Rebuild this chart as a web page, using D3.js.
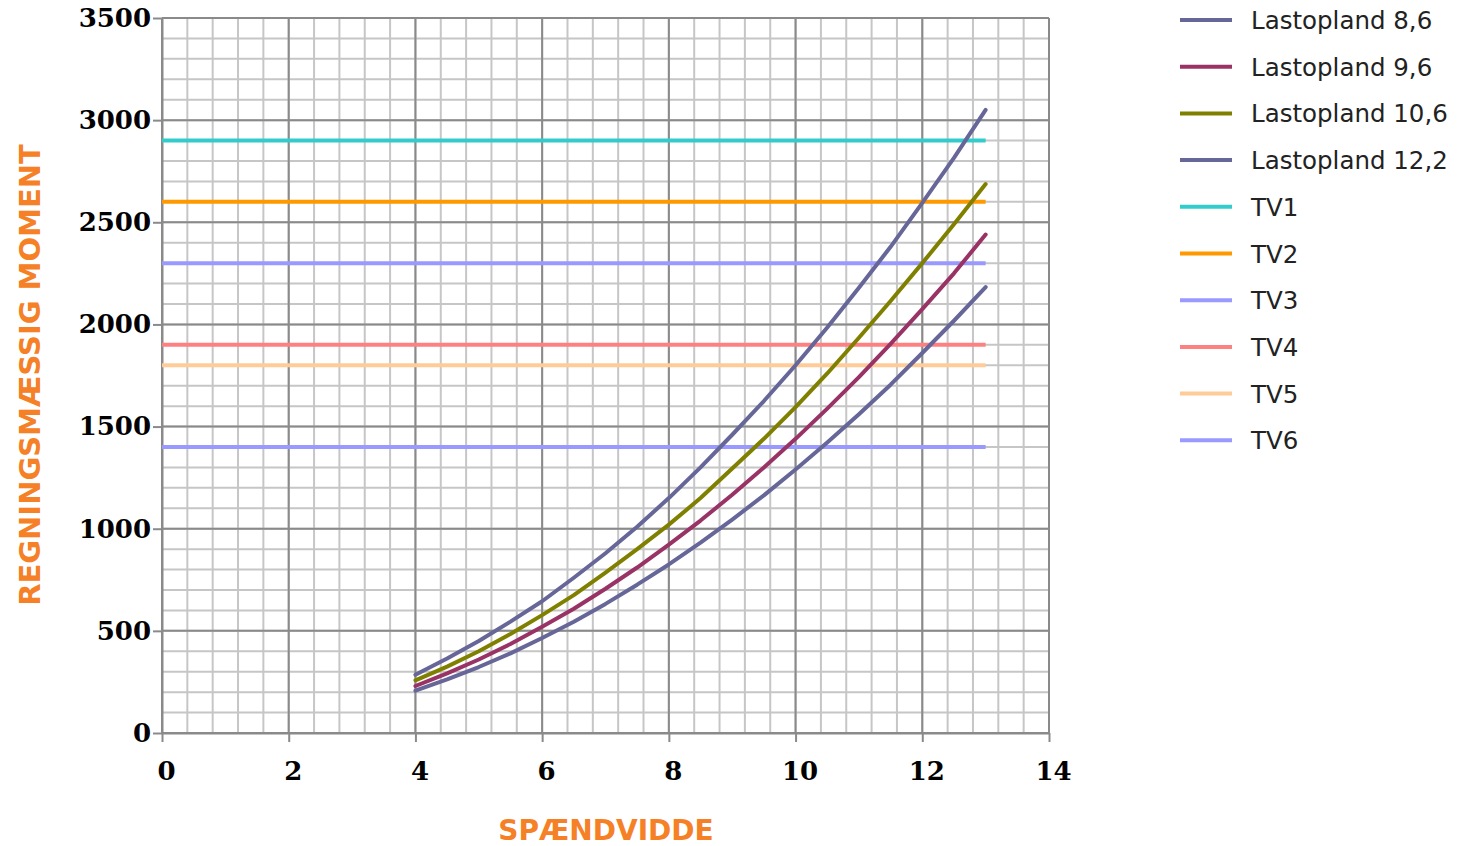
<!DOCTYPE html>
<html>
<head>
<meta charset="utf-8">
<script src="https://cdn.jsdelivr.net/npm/d3@7"></script>
<style>
  body { margin: 0; background: #fff; }
  svg { display: block; }
</style>
</head>
<body>
<svg id="chart"></svg>
<script>
// spans (m) and moments
const spans = [4, 4.5, 5, 5.5, 6, 6.5, 7, 7.5, 8, 8.5, 9, 9.5, 10, 10.5, 11, 11.5, 12, 12.5, 13];
const load86  = [207, 262, 323, 390, 465, 545, 632, 726, 825, 932, 1045, 1163, 1290, 1422, 1560, 1705, 1860, 2018, 2183];
const load96  = [230, 292, 360, 436, 520, 608, 706, 810, 922, 1040, 1166, 1300, 1440, 1588, 1742, 1905, 2075, 2250, 2440];
const load106 = [258, 325, 400, 485, 577, 675, 785, 900, 1020, 1150, 1295, 1440, 1595, 1760, 1935, 2115, 2300, 2490, 2687];
const load122 = [285, 365, 450, 545, 645, 760, 880, 1010, 1150, 1300, 1460, 1625, 1800, 1985, 2180, 2380, 2595, 2815, 3050];

const tvNames = ["TV1", "TV2", "TV3", "TV4", "TV5", "TV6"];
const tvValues = [2900, 2600, 2300, 1900, 1800, 1400];
const tvRange = [0, 13];

const xTicks = [0, 2, 4, 6, 8, 10, 12, 14];
const yTicks = [0, 500, 1000, 1500, 2000, 2500, 3000, 3500];

const curveNames = ["Lastopland 8,6", "Lastopland 9,6", "Lastopland 10,6", "Lastopland 12,2"];
const curveColors = ["#666699", "#993366", "#808000", "#666699"];
const tvColors = ["#33CCCC", "#FF9900", "#9999FF", "#FF8080", "#FFCC99", "#9999FF"];

const W = 1458, H = 846;
const margin = { top: 18, left: 162, right: 409, bottom: 113 };

const svg = d3.select("#chart").attr("width", W).attr("height", H);

const x = d3.scaleLinear().domain([0, 14]).range([margin.left, W - margin.right]);
const y = d3.scaleLinear().domain([0, 3500]).range([H - margin.bottom, margin.top]);

// minor grid
const g = svg.append("g");
g.selectAll(".vminor")
  .data(d3.range(0, 14.001, 0.4))
  .join("line")
    .attr("x1", d => x(d)).attr("x2", d => x(d))
    .attr("y1", y(0)).attr("y2", y(3500))
    .attr("stroke", "#c6c6c6").attr("stroke-width", 2);
g.selectAll(".hminor")
  .data(d3.range(0, 3501, 100))
  .join("line")
    .attr("x1", x(0)).attr("x2", x(14))
    .attr("y1", d => y(d)).attr("y2", d => y(d))
    .attr("stroke", "#c6c6c6").attr("stroke-width", 2);

// major grid
g.selectAll(".vmajor")
  .data(xTicks)
  .join("line")
    .attr("x1", d => x(d)).attr("x2", d => x(d))
    .attr("y1", y(0)).attr("y2", y(3500))
    .attr("stroke", "#8a8a8a").attr("stroke-width", 2);
g.selectAll(".hmajor")
  .data(yTicks)
  .join("line")
    .attr("x1", x(0)).attr("x2", x(14))
    .attr("y1", d => y(d)).attr("y2", d => y(d))
    .attr("stroke", "#8a8a8a").attr("stroke-width", 2);

// axes
const xAxis = svg.append("g")
  .attr("transform", `translate(0,${y(0)})`)
  .call(d3.axisBottom(x).tickValues(xTicks).tickFormat(d3.format("d")).tickSize(9).tickSizeOuter(0).tickPadding(20));
const yAxis = svg.append("g")
  .attr("transform", `translate(${x(0)},0)`)
  .call(d3.axisLeft(y).tickValues(yTicks).tickFormat(d3.format("d")).tickSize(9).tickSizeOuter(0).tickPadding(2));

[xAxis, yAxis].forEach(a => {
  a.select(".domain").attr("stroke", "#8a8a8a").attr("stroke-width", 2);
  a.selectAll(".tick line").attr("stroke", "#8a8a8a").attr("stroke-width", 2);
  a.selectAll(".tick text")
    .attr("fill", "#000")
    .style("font-family", "'DejaVu Serif', serif")
    .style("font-weight", "bold")
    .style("font-size", "26px");
});
xAxis.selectAll(".tick text").attr("dx", 4);

// threshold lines
const tvData = tvNames.map((n, i) => ({ name: n, value: tvValues[i], color: tvColors[i] }));
svg.append("g").selectAll("line")
  .data(tvData)
  .join("line")
    .attr("x1", x(tvRange[0])).attr("x2", x(tvRange[1]))
    .attr("y1", d => y(d.value)).attr("y2", d => y(d.value))
    .attr("stroke", d => d.color).attr("stroke-width", 4);

// load curves
const curves = [load86, load96, load106, load122].map((vals, i) => ({
  name: curveNames[i], color: curveColors[i],
  pts: spans.map((s, j) => [s, vals[j]])
}));
const line = d3.line().x(d => x(d[0])).y(d => y(d[1]));
svg.append("g").selectAll("path")
  .data(curves)
  .join("path")
    .attr("d", d => line(d.pts))
    .attr("fill", "none")
    .attr("stroke", d => d.color)
    .attr("stroke-width", 4)
    .attr("stroke-linejoin", "round")
    .attr("stroke-linecap", "round");

// axis titles
svg.append("text")
  .attr("x", 606).attr("y", 840)
  .attr("text-anchor", "middle")
  .attr("fill", "#F58025")
  .style("font-family", "'DejaVu Sans', sans-serif")
  .style("font-weight", "bold")
  .style("font-size", "28px")
  .text("SPÆNDVIDDE");
svg.append("text")
  .attr("transform", "translate(40,375) rotate(-90)")
  .attr("text-anchor", "middle")
  .attr("fill", "#F58025")
  .style("font-family", "'DejaVu Sans', sans-serif")
  .style("font-weight", "bold")
  .style("font-size", "29px")
  .text("REGNINGSMÆSSIG MOMENT");

// legend
const legendItems = curves.map(c => ({ name: c.name, color: c.color })).concat(tvData);
const lg = svg.append("g").selectAll("g")
  .data(legendItems)
  .join("g")
    .attr("transform", (d, i) => `translate(1180,${20 + i * 46.7})`);
lg.append("line")
  .attr("x1", 0).attr("x2", 52)
  .attr("stroke", d => d.color).attr("stroke-width", 4);
lg.append("text")
  .attr("x", 71).attr("y", 9)
  .attr("fill", "#222")
  .style("font-family", "'DejaVu Sans', sans-serif")
  .style("font-size", "24.5px")
  .text(d => d.name);
</script>
</body>
</html>
